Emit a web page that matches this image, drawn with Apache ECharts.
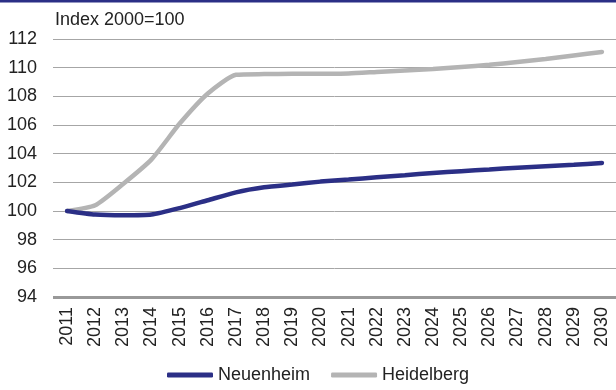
<!DOCTYPE html>
<html><head><meta charset="utf-8">
<script src="https://cdn.jsdelivr.net/npm/echarts@6/dist/echarts.min.js"></script>
<style>html,body{margin:0;padding:0;background:#fff}#c{width:616px;height:390px}</style>
</head><body><div id="c"></div>
<script>
var years = ['2011','2012','2013','2014','2015','2016','2017','2018','2019','2020','2021','2022','2023','2024','2025','2026','2027','2028','2029','2030'];
var neuenheim = [100, 99.75, 99.7, 99.75, 100.2, 100.75, 101.3, 101.65, 101.85, 102.05, 102.2, 102.35, 102.5, 102.65, 102.78, 102.9, 103.02, 103.13, 103.23, 103.35];
var heidelberg = [100, 100.4, 101.9, 103.6, 106.1, 108.2, 109.5, 109.55, 109.57, 109.58, 109.6, 109.7, 109.8, 109.9, 110.05, 110.2, 110.4, 110.6, 110.85, 111.1];
var yTicks = {min: 94, max: 112, interval: 2};

var chart = echarts.init(document.getElementById('c'), null, {renderer: 'canvas'});
var font = 'Liberation Sans, Arial, sans-serif';
chart.setOption({
  animation: false,
  graphic: [{type: 'rect', shape: {x: 0, y: 0, width: 616, height: 2.5}, style: {fill: '#2b2f86'}}],
  grid: {left: 53, right: 0, top: 39, bottom: 93},
  legend: {
    bottom: 1, left: 162, itemWidth: 46, itemHeight: 5, itemGap: 21,
    textStyle: {fontFamily: font, fontSize: 18, color: '#222', padding: [0, 0, 0, 0]},
    icon: 'roundRect',
    data: ['Neuenheim', 'Heidelberg']
  },
  xAxis: {
    type: 'category', data: years, boundaryGap: true,
    axisLine: {show: false}, axisTick: {show: false},
    axisLabel: {rotate: 90, fontFamily: font, fontSize: 18, color: '#222', margin: 10}
  },
  yAxis: {
    type: 'value', min: yTicks.min, max: yTicks.max, interval: yTicks.interval,
    name: 'Index 2000=100', nameLocation: 'end', nameGap: 10,
    nameTextStyle: {fontFamily: font, fontSize: 18, color: '#222', align: 'left', padding: [0, 0, 0, 2]},
    axisLine: {show: false}, axisTick: {show: false},
    axisLabel: {fontFamily: font, fontSize: 18, color: '#222', margin: 16},
    splitLine: {lineStyle: {color: '#a6a6a6', width: 1}}
  },
  series: [
    {name: 'Neuenheim', type: 'line', data: neuenheim, symbol: 'none', smooth: 0.2,
     lineStyle: {color: '#2b2f86', width: 4.5, cap: 'round'}, itemStyle: {color: '#2b2f86'}, z: 3},
    {name: 'Heidelberg', type: 'line', data: heidelberg, symbol: 'none', smooth: 0.2,
     lineStyle: {color: '#b4b4b4', width: 4.5, cap: 'round'}, itemStyle: {color: '#b4b4b4'}, z: 2,
     markLine: {silent: true, symbol: 'none', label: {show: false},
       lineStyle: {color: '#999', width: 3, type: 'solid'}, data: [{yAxis: 94}]}}
  ]
});
</script></body></html>
